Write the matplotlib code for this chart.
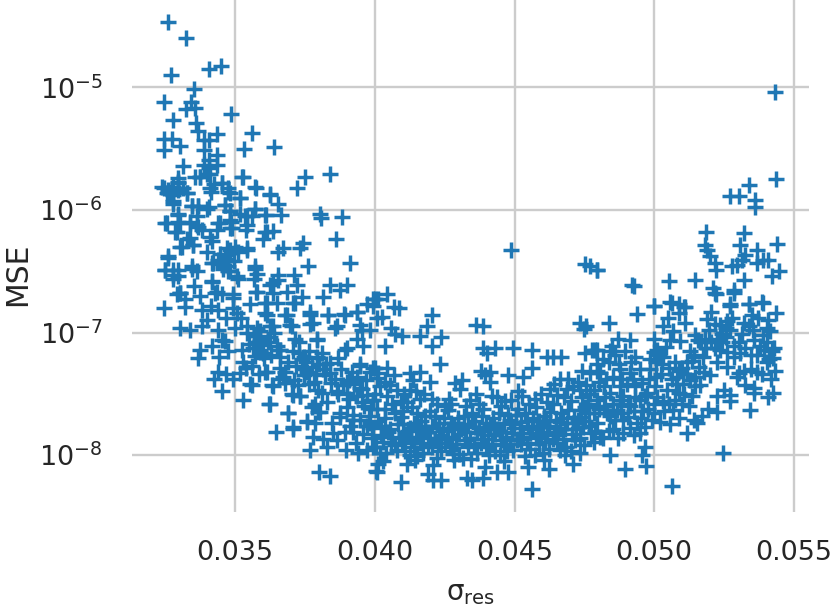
import matplotlib
matplotlib.use('Agg')
import numpy as np
import matplotlib.pyplot as plt

# (sigma_res, log10 MSE), one list per area
upper_left = [(0.03261,-4.47),(0.03323,-4.60),(0.03271,-4.90),(0.03408,-4.85),(0.03448,-4.83),(0.03353,-5.01),
    (0.03246,-5.12),(0.03341,-5.12),(0.03357,-5.17),(0.03325,-5.18),(0.03486,-5.22),(0.03276,-5.27),(0.0336,-5.29),
    (0.03369,-5.36),(0.03437,-5.38),(0.0356,-5.37),(0.03273,-5.42),(0.03246,-5.42),(0.03387,-5.43),(0.03405,-5.43),
    (0.03303,-5.48),(0.03246,-5.51),(0.03533,-5.50),(0.0364,-5.49),(0.03387,-5.51),(0.03437,-5.55),(0.03313,-5.64),
    (0.0339,-5.63),(0.03434,-5.63),(0.03405,-5.59),(0.03405,-5.66),(0.03357,-5.73),(0.03373,-5.73),(0.03398,-5.71),
    (0.03525,-5.73),(0.03751,-5.73),(0.03841,-5.71),(0.03721,-5.82),(0.03574,-5.82),(0.03294,-5.74),(0.03452,-5.78),
    (0.03425,-5.79),(0.03238,-5.81),(0.03261,-5.84),(0.03279,-5.81),(0.03315,-5.82),(0.03294,-5.78),(0.03255,-5.86),
    (0.03279,-5.88),(0.03327,-5.86),(0.03473,-5.82),(0.03412,-5.85),(0.03482,-5.86),(0.03625,-5.87),(0.03518,-5.90),
    (0.03655,-5.95),(0.03279,-5.93),(0.03464,-5.96),(0.03345,-5.97),(0.03366,-5.97),(0.03405,-5.98),(0.03572,-5.99),
    (0.03482,-6.01),(0.03663,-6.04),(0.03611,-6.04),(0.03804,-6.03),(0.03809,-6.07),(0.03882,-6.06),(0.03297,-6.03),
    (0.03363,-6.05),(0.03518,-6.03),(0.03542,-6.05),(0.0356,-6.05),(0.03255,-6.11),(0.03297,-6.10),(0.03339,-6.11),
    (0.03363,-6.12),(0.03446,-6.11),(0.03486,-6.10),(0.03291,-6.18),(0.03381,-6.16),(0.03434,-6.16),(0.03488,-6.15),
    (0.03539,-6.16),(0.03607,-6.18),(0.03637,-6.17),(0.03601,-6.24),(0.03862,-6.24),(0.03742,-6.27),(0.03327,-6.24),
    (0.03416,-6.25),(0.03303,-6.30),(0.03351,-6.29),(0.0347,-6.31),(0.035,-6.30),(0.03544,-6.31),(0.03671,-6.31),
    (0.03733,-6.31)]

left_cluster = [(0.03244,-5.82),(0.03267,-5.85),(0.03297,-5.77),(0.03297,-5.84),(0.03327,-5.86),(0.03279,-5.95),
    (0.03375,-5.73),(0.03411,-5.71),(0.03411,-5.82),(0.03452,-5.78),(0.03476,-5.85),(0.0353,-5.73),(0.03572,-5.81),
    (0.03518,-5.90),(0.03625,-5.88),(0.03345,-5.97),(0.03369,-5.97),(0.03399,-5.99),(0.03464,-5.96),(0.03482,-6.01),
    (0.03572,-5.99),(0.03536,-6.05),(0.03607,-6.04),(0.03297,-6.04),(0.0325,-6.11),(0.03303,-6.11),(0.03339,-6.10),
    (0.03285,-6.18),(0.03369,-6.14),(0.0344,-6.11),(0.03482,-6.08),(0.03482,-6.15),(0.03542,-6.12),(0.03613,-6.18),
    (0.03339,-6.23),(0.03411,-6.22),(0.03309,-6.30),(0.03351,-6.29),(0.03261,-6.38),(0.03399,-6.34),(0.03422,-6.43),
    (0.03464,-6.37),(0.03482,-6.33),(0.03512,-6.34),(0.03542,-6.33),(0.03655,-6.34),(0.03464,-6.42),(0.03458,-6.48),
    (0.03482,-6.50),(0.0325,-6.49),(0.03279,-6.49),(0.03297,-6.54),(0.03345,-6.48),(0.03279,-6.56),(0.03572,-6.48),
    (0.03506,-6.54),(0.03416,-6.58),(0.03578,-6.67),(0.03625,-6.61),(0.03655,-6.57),(0.03303,-6.68),(0.03434,-6.67),
    (0.03494,-6.69),(0.0347,-6.40),(0.03452,-6.44),(0.03476,-6.46),(0.03496,-6.42),(0.03446,-6.36)]

lower_left = [(0.03912,-6.43),(0.03762,-6.46),(0.03261,-6.39),(0.03345,-6.46),(0.03249,-6.49),(0.03279,-6.53),
    (0.03297,-6.49),(0.03363,-6.50),(0.03416,-6.43),(0.0344,-6.41),(0.03458,-6.46),(0.03476,-6.50),(0.03572,-6.46),
    (0.03578,-6.52),(0.03512,-6.56),(0.03566,-6.56),(0.03655,-6.53),(0.03711,-6.53),(0.03637,-6.60),(0.03721,-6.61),
    (0.0384,-6.61),(0.03876,-6.65),(0.039,-6.61),(0.03416,-6.59),(0.03303,-6.68),(0.03291,-6.69),(0.03321,-6.73),
    (0.03428,-6.68),(0.03452,-6.69),(0.03494,-6.72),(0.03575,-6.67),(0.03685,-6.67),(0.03816,-6.71),(0.03739,-6.71),
    (0.03637,-6.68),(0.03247,-6.80),(0.03321,-6.79),(0.03383,-6.82),(0.03494,-6.80),(0.03554,-6.77),(0.03607,-6.76),
    (0.03649,-6.76),(0.03715,-6.76),(0.03992,-6.73),(0.03971,-6.77),(0.0401,-6.73),(0.03506,-6.84),(0.03607,-6.84),
    (0.03685,-6.86),(0.03768,-6.83),(0.03834,-6.86),(0.03888,-6.85),(0.03935,-6.83),(0.03398,-6.90),(0.03303,-6.96),
    (0.03337,-6.98),(0.03381,-6.95),(0.0344,-6.98),(0.035,-6.96),(0.03542,-6.95),(0.03578,-6.96),(0.03625,-6.95),
    (0.03703,-6.95),(0.0378,-6.92),(0.03858,-6.96),(0.03947,-6.94),(0.03983,-6.98),(0.04007,-6.88),(0.03452,-7.06),
    (0.03464,-7.07),(0.03566,-7.03),(0.0359,-7.06),(0.03715,-7.05),(0.03792,-7.05),(0.03935,-7.05),(0.03959,-7.11),
    (0.03375,-7.14),(0.03416,-7.11),(0.03476,-7.15),(0.03524,-7.14),(0.0359,-7.14),(0.03661,-7.14),(0.039,-7.13),
    (0.03366,-7.21),(0.03443,-7.20),(0.03527,-7.24),(0.03661,-7.20),(0.03739,-7.22),(0.03792,-7.21),(0.0387,-7.21),
    (0.03601,-7.17),(0.03947,-7.26),(0.03751,-7.29),(0.03816,-7.30),(0.03607,-7.32),(0.03983,-7.32),(0.03661,-7.29),
    (0.0384,-7.33),(0.03745,-7.35),(0.03554,-7.42),(0.03452,-7.48),(0.03634,-7.44),(0.03679,-7.41),(0.03906,-7.39),
    (0.03947,-7.45),(0.04007,-7.37),(0.03709,-7.51),(0.03733,-7.52),(0.0381,-7.49),(0.03864,-7.48),(0.039,-7.49),
    (0.03935,-7.52),(0.0353,-7.55),(0.03623,-7.58),(0.03787,-7.58),(0.03992,-7.55),(0.03691,-7.66),(0.03798,-7.65),
    (0.03876,-7.66),(0.03923,-7.67),(0.03757,-7.72),(0.03786,-7.74),(0.03947,-7.71),(0.03983,-7.74),(0.03646,-7.81),
    (0.03709,-7.79),(0.0378,-7.85),(0.03816,-7.87),(0.03894,-7.81),(0.03923,-7.81),(0.03852,-7.82),(0.03768,-7.96),
    (0.0383,-7.93),(0.03896,-7.96),(0.03941,-7.98),(0.03971,-7.96),(0.03995,-7.93),(0.03801,-8.14),(0.0384,-8.17),
    (0.04005,-8.13),(0.0401,-8.07)]

mid_left = [(0.03613,-6.76),(0.03709,-6.76),(0.03613,-6.86),(0.03679,-6.86),(0.03768,-6.86),(0.03834,-6.86),(0.03894,-6.86),
    (0.03935,-6.83),(0.03995,-6.78),(0.03589,-6.99),(0.03637,-6.95),(0.03697,-6.94),(0.03768,-6.93),(0.03864,-6.95),
    (0.03953,-6.98),(0.03792,-7.06),(0.03578,-7.08),(0.03625,-7.04),(0.03727,-7.08),(0.03661,-7.14),(0.03589,-7.16),
    (0.03745,-7.20),(0.03792,-7.20),(0.0384,-7.25),(0.03894,-7.14),(0.03948,-7.27),(0.04001,-7.29),(0.03613,-7.32),
    (0.03679,-7.32),(0.03757,-7.32),(0.03822,-7.35),(0.0356,-7.43),(0.03631,-7.43),(0.03703,-7.50),(0.03733,-7.52),
    (0.03798,-7.47),(0.0387,-7.50),(0.039,-7.40),(0.03953,-7.46),(0.03625,-7.58),(0.03691,-7.66),(0.03774,-7.61),
    (0.03828,-7.57),(0.039,-7.61),(0.03953,-7.57),(0.04001,-7.50),(0.03757,-7.73),(0.03804,-7.65),(0.03876,-7.69),
    (0.03923,-7.71),(0.03971,-7.76),(0.03709,-7.77),(0.03846,-7.74),(0.03911,-7.76),(0.03958,-7.83),(0.03989,-7.86),
    (0.03866,-7.88),(0.03934,-7.90),(0.03978,-7.68),(0.03985,-7.62),(0.0396,-7.60),(0.03908,-7.54)]

mid_left_dense = [(0.03542,-7.00),(0.03551,-7.09),(0.03563,-7.13),(0.03572,-7.19),(0.03585,-7.03),(0.03596,-7.10),
    (0.03604,-7.21),(0.03618,-7.08),(0.03628,-7.18),(0.03641,-7.00),(0.03649,-7.11),(0.03706,-7.15),(0.03718,-7.27),
    (0.03729,-7.17),(0.03742,-7.30),(0.03754,-7.24),(0.03763,-7.15),(0.03776,-7.28),(0.03788,-7.34),(0.03802,-7.26),
    (0.03812,-7.17),(0.03826,-7.26),(0.03689,-7.24),(0.03672,-7.36),(0.03658,-7.38),(0.03711,-7.39),(0.03725,-7.43),
    (0.03763,-7.42),(0.03782,-7.40),(0.03844,-7.41),(0.03856,-7.38),(0.03878,-7.30),(0.03886,-7.43),(0.03918,-7.32),
    (0.03927,-7.42),(0.03936,-7.36),(0.03967,-7.39),(0.03972,-7.51),(0.03516,-7.33),(0.03538,-7.29),(0.03562,-7.27),
    (0.03586,-7.34),(0.03492,-7.38),(0.03468,-7.34),(0.03439,-7.32),(0.03426,-7.38),(0.03412,-6.78),(0.03438,-6.82),
    (0.03467,-6.88),(0.03521,-6.88),(0.03352,-6.62),(0.03374,-6.70)]

middle = [(0.04488,-6.33),(0.04045,-6.69),(0.04,-6.73),(0.04067,-6.79),(0.04088,-6.80),(0.04025,-6.87),(0.04204,-6.86),
    (0.04363,-6.94),(0.04387,-6.95),(0.04735,-6.92),(0.04756,-6.95),(0.04747,-6.97),(0.04186,-6.95),(0.04057,-6.96),
    (0.04073,-7.01),(0.04097,-7.03),(0.04162,-7.03),(0.04236,-7.04),(0.04037,-7.11),(0.04204,-7.11),(0.04389,-7.13),
    (0.04431,-7.13),(0.04401,-7.17),(0.04493,-7.13),(0.04564,-7.14),(0.04616,-7.20),(0.04637,-7.20),(0.04666,-7.20),
    (0.04753,-7.17),(0.04777,-7.14),(0.04795,-7.14),(0.04234,-7.26),(0.04741,-7.31),(0.04564,-7.29),(0.04771,-7.33),
    (0.04795,-7.31),(0.04379,-7.31),(0.04413,-7.32),(0.04395,-7.35),(0.04478,-7.35),(0.0453,-7.36),(0.04413,-7.40),
    (0.04663,-7.38),(0.04311,-7.39),(0.04287,-7.41),(0.04305,-7.46),(0.04162,-7.32),(0.04126,-7.33),(0.04198,-7.40),
    (0.03995,-7.29),(0.04045,-7.29),(0.04067,-7.35),(0.04013,-7.33),(0.04055,-7.43),(0.04043,-7.52),(0.04103,-7.50),
    (0.04138,-7.39),(0.04126,-7.47),(0.04061,-7.58),(0.03995,-7.55),(0.04162,-7.54),(0.04204,-7.54),(0.04264,-7.54),
    (0.04419,-7.52),(0.04526,-7.52),(0.04574,-7.54),(0.04651,-7.51),(0.04711,-7.44),(0.04735,-7.47),(0.04771,-7.50),
    (0.04007,-8.14),(0.04093,-8.22),(0.04031,-8.05),(0.04115,-8.07),(0.04144,-8.04),(0.04192,-8.15),(0.0421,-8.20),
    (0.04236,-8.20),(0.04208,-8.08),(0.04282,-8.04),(0.04329,-8.19),(0.04347,-8.20),(0.04389,-8.19),(0.04395,-8.10),
    (0.04437,-8.14),(0.04475,-8.14),(0.04461,-8.05),(0.0455,-8.10),(0.04562,-8.28),(0.04622,-8.11),(0.04604,-8.04),
    (0.04709,-8.07),(0.04681,-8.0)]

band = [(0.04008,-7.62),(0.04038,-7.70),(0.04072,-7.66),(0.04101,-7.75),(0.04132,-7.61),(0.04165,-7.72),(0.04198,-7.64),
    (0.04229,-7.74),(0.04261,-7.63),(0.04296,-7.70),(0.04327,-7.60),(0.04358,-7.72),(0.04389,-7.62),(0.04422,-7.70),
    (0.04451,-7.60),(0.04484,-7.71),(0.04512,-7.62),(0.04543,-7.72),(0.04577,-7.61),(0.04606,-7.68),(0.04639,-7.58),
    (0.04668,-7.66),(0.04702,-7.56),(0.04733,-7.63),(0.04764,-7.58),(0.03995,-7.78),(0.04022,-7.84),(0.04055,-7.79),
    (0.04086,-7.86),(0.04118,-7.80),(0.04149,-7.85),(0.04181,-7.79),(0.04214,-7.87),(0.04245,-7.80),(0.04278,-7.85),
    (0.04309,-7.79),(0.04341,-7.86),(0.04373,-7.78),(0.04404,-7.84),(0.04436,-7.79),(0.04468,-7.85),(0.04499,-7.78),
    (0.04531,-7.85),(0.04562,-7.79),(0.04594,-7.84),(0.04625,-7.76),(0.04657,-7.81),(0.04688,-7.74),(0.04719,-7.79),
    (0.04751,-7.72),(0.04005,-7.93),(0.04041,-7.98),(0.04074,-7.92),(0.04107,-7.97),(0.04139,-7.93),(0.04172,-7.98),
    (0.04203,-7.93),(0.04236,-7.97),(0.04268,-7.93),(0.04301,-7.99),(0.04333,-7.93),(0.04365,-7.98),(0.04397,-7.93),
    (0.04429,-7.97),(0.04462,-7.92),(0.04493,-7.96),(0.04525,-7.91),(0.04557,-7.95),(0.04589,-7.91),(0.04622,-7.95),
    (0.04653,-7.90),(0.04685,-7.93),(0.04716,-7.88),(0.04748,-7.92),(0.04772,-7.82),(0.04022,-7.76),(0.04093,-7.69),
    (0.04151,-7.66),(0.04217,-7.68),(0.04283,-7.77),(0.04349,-7.66),(0.04411,-7.76),(0.04476,-7.67),(0.04539,-7.66),
    (0.04601,-7.75),(0.04662,-7.73),(0.04728,-7.71),(0.04058,-7.90),(0.04126,-8.00),(0.04189,-7.92),(0.04253,-7.90),
    (0.04317,-8.02),(0.04381,-7.90),(0.04447,-8.00),(0.04509,-7.88),(0.04574,-8.00),(0.04637,-7.87),(0.04702,-7.97)]

band_core = [(0.04012,-7.72),(0.04047,-7.81),(0.04083,-7.75),(0.04109,-7.83),(0.04141,-7.74),(0.04174,-7.83),(0.04206,-7.76),
    (0.04238,-7.84),(0.04271,-7.74),(0.04303,-7.83),(0.04335,-7.75),(0.04366,-7.82),(0.04398,-7.74),(0.04429,-7.83),
    (0.04461,-7.74),(0.04492,-7.82),(0.04524,-7.73),(0.04556,-7.82),(0.04587,-7.72),(0.04618,-7.81),(0.04649,-7.71),
    (0.04681,-7.79),(0.04712,-7.69),(0.04744,-7.77),(0.04768,-7.66),(0.04028,-7.89),(0.04063,-7.85),(0.04097,-7.90),
    (0.04131,-7.88),(0.04163,-7.90),(0.04196,-7.86),(0.04227,-7.90),(0.04259,-7.87),(0.04292,-7.91),(0.04324,-7.88),
    (0.04355,-7.91),(0.04387,-7.87),(0.04419,-7.91),(0.04451,-7.88),(0.04483,-7.91),(0.04514,-7.87),(0.04546,-7.90),
    (0.04578,-7.86),(0.04609,-7.89),(0.04641,-7.84),(0.04673,-7.87),(0.04704,-7.83),(0.04736,-7.86),(0.04101,-7.64),
    (0.04178,-7.68),(0.04246,-7.70),(0.04318,-7.68),(0.04383,-7.68),(0.04443,-7.66),(0.04505,-7.67),(0.04567,-7.70),
    (0.04628,-7.65),(0.04692,-7.63),(0.04752,-7.61),(0.04035,-7.62),(0.04116,-7.57),(0.04274,-7.58),(0.04372,-7.58),
    (0.04466,-7.56),(0.04553,-7.58),(0.04618,-7.57),(0.04676,-7.53),(0.04742,-7.53),(0.04079,-7.96),(0.04152,-8.01),
    (0.04281,-7.99),(0.04344,-8.03),(0.04409,-8.00),(0.04472,-7.97),(0.04538,-8.01),(0.04603,-7.98),(0.04662,-7.96),
    (0.04733,-7.98),(0.04017,-7.98),(0.04222,-8.02),(0.04127,-7.78),(0.04192,-7.81),(0.04262,-7.79),(0.04326,-7.81),
    (0.04392,-7.80),(0.04456,-7.81),(0.04518,-7.78),(0.04583,-7.77),(0.04647,-7.78),(0.04709,-7.74),(0.04158,-7.76),
    (0.04229,-7.78),(0.04296,-7.76),(0.04358,-7.77),(0.04425,-7.76),(0.04487,-7.75),(0.04549,-7.76),(0.04613,-7.72),
    (0.04675,-7.70),(0.04738,-7.69)]

band_top = [(0.04018,-7.44),(0.04036,-7.40),(0.04078,-7.47),(0.04094,-7.56),(0.04148,-7.48),(0.04176,-7.50),
    (0.04222,-7.58),(0.04253,-7.60),(0.04341,-7.55),(0.04362,-7.50),(0.04437,-7.53),(0.04488,-7.55),(0.04512,-7.48),
    (0.04596,-7.50),(0.04628,-7.46),(0.04689,-7.46),(0.04756,-7.43),(0.04726,-7.40),(0.04692,-7.38),(0.04643,-7.42)]

right_low = [(0.05063,-8.25),(0.05245,-7.98),(0.04896,-8.11),(0.0497,-8.09),(0.04956,-8.0),(0.04968,-7.93),(0.04843,-8.0),
    (0.05117,-7.82),(0.05153,-7.74),(0.05057,-7.75),(0.05344,-7.63),(0.05409,-7.53),(0.05425,-7.49),(0.05356,-7.49),
    (0.05272,-7.56),(0.05249,-7.47),(0.05224,-7.52),(0.05272,-7.51),(0.05224,-7.65),(0.05194,-7.62),(0.04938,-6.85),
    (0.04998,-6.78),(0.04837,-6.92),(0.05063,-6.76),(0.05105,-6.79),(0.05218,-6.68),(0.05284,-6.68),(0.05272,-6.77),
    (0.05341,-6.77),(0.05389,-6.76),(0.05437,-6.84),(0.05409,-6.90),(0.05203,-6.83),(0.05188,-6.89),(0.05087,-6.84),
    (0.05051,-6.88),(0.05033,-6.95),(0.05111,-6.92),(0.05069,-6.99),(0.05,-7.05),(0.04914,-7.06),(0.04872,-7.05),
    (0.04848,-7.11),(0.04789,-7.14),(0.0526,-6.91),(0.0532,-6.92),(0.0535,-6.86),(0.05242,-7.01),(0.05147,-7.02),
    (0.05183,-7.05),(0.05314,-7.01),(0.05356,-7.06),(0.05403,-6.96),(0.05415,-6.99),(0.05093,-7.07),(0.05057,-7.06),
    (0.05218,-7.13),(0.05284,-7.11),(0.05421,-7.15),(0.05425,-7.21),(0.05308,-7.17),(0.05379,-7.11),(0.04896,-7.15),
    (0.04932,-7.20),(0.0501,-7.14),(0.05033,-7.20),(0.05129,-7.15),(0.05224,-7.24),(0.0526,-7.28),(0.05433,-7.31),
    (0.05403,-7.24),(0.05367,-7.32),(0.05302,-7.33),(0.05159,-7.28),(0.05117,-7.24),(0.05201,-7.35),(0.05027,-7.26),
    (0.04837,-7.24),(0.05081,-7.36),(0.05326,-7.43),(0.05356,-7.45),(0.05129,-7.39),(0.05165,-7.43),(0.05045,-7.47),
    (0.05087,-7.49),(0.04986,-7.30),(0.04949,-7.30),(0.04914,-7.33),(0.04878,-7.30),(0.04807,-7.33),(0.05004,-7.44),
    (0.04974,-7.49),(0.0493,-7.44),(0.04878,-7.44),(0.04819,-7.44),(0.04783,-7.47),(0.0495,-7.55),(0.0489,-7.52),
    (0.04843,-7.49),(0.04795,-7.55),(0.05,-7.66),(0.05069,-7.63),(0.05123,-7.60),(0.05087,-7.70),(0.04961,-7.64),
    (0.04914,-7.60),(0.04866,-7.63),(0.04819,-7.60),(0.04783,-7.66),(0.04938,-7.74),(0.0489,-7.71),(0.04843,-7.68),
    (0.04795,-7.74),(0.0495,-7.82),(0.04872,-7.86),(0.04854,-7.79),(0.04807,-7.85),(0.04783,-7.89),(0.05141,-7.71),
    (0.05021,-7.73),(0.05171,-7.68)]

right_core = [(0.04802,-7.40),(0.04826,-7.38),(0.04851,-7.36),(0.04884,-7.38),(0.04902,-7.42),(0.04925,-7.38),(0.04958,-7.41),
    (0.04981,-7.38),(0.05008,-7.36),(0.05025,-7.34),(0.04986,-7.22),(0.05006,-7.24),(0.05018,-7.18),(0.04998,-7.16),
    (0.05042,-7.12),(0.04966,-7.52),(0.05011,-7.53),(0.05032,-7.56),(0.04933,-7.53),(0.04906,-7.58),(0.04877,-7.55),
    (0.04852,-7.58),(0.04823,-7.53),(0.04804,-7.62),(0.04832,-7.66),(0.04858,-7.71),(0.04881,-7.66),(0.04906,-7.69),
    (0.04928,-7.64),(0.04952,-7.70),(0.04976,-7.62),(0.04998,-7.58),(0.05036,-7.64),(0.05053,-7.58),(0.05074,-7.55),
    (0.05098,-7.58),(0.05108,-7.50),(0.05136,-7.52),(0.05147,-7.44),(0.05102,-7.42),(0.05078,-7.42),(0.05063,-7.38),
    (0.05118,-7.34),(0.05146,-7.36),(0.05178,-7.32),(0.05101,-7.29),(0.05088,-7.31),(0.05136,-7.23),(0.05142,-7.18),
    (0.05176,-7.20),(0.05186,-7.13),(0.05168,-7.08),(0.05203,-7.08),(0.05223,-7.05),(0.05242,-7.08),(0.05256,-7.04),
    (0.05236,-7.14),(0.05261,-7.16),(0.05286,-7.20),(0.05305,-7.08),(0.05325,-7.13),(0.05345,-7.18),(0.05368,-7.18),
    (0.05392,-7.14),(0.05403,-7.08),(0.05412,-7.22),(0.05428,-7.13),(0.05273,-6.98),(0.05258,-6.96),(0.05236,-6.94),
    (0.05278,-6.88),(0.05338,-6.95),(0.05352,-6.98),(0.05391,-7.02),(0.05372,-6.88),(0.05296,-7.36),(0.05322,-7.31),
    (0.05345,-7.30),(0.05385,-7.34),(0.05418,-7.38),(0.05156,-7.06),(0.05196,-6.98),(0.05216,-6.93),(0.04858,-7.18),
    (0.04842,-7.15),(0.04818,-7.22),(0.04794,-7.26),(0.04916,-7.24),(0.04873,-7.26),(0.05052,-7.29),(0.05076,-7.24),
    (0.04789,-7.80),(0.04768,-7.76),(0.04912,-7.78),(0.04928,-7.84),(0.04838,-7.80),(0.04818,-7.86),(0.04887,-7.82),
    (0.04966,-7.77),(0.04992,-7.71)]

right_high = [(0.05431,-5.04),(0.05435,-5.75),(0.05341,-5.80),(0.05273,-5.89),(0.05304,-5.89),(0.05361,-5.92),
    (0.05359,-5.98),(0.05185,-6.18),(0.05323,-6.19),(0.05308,-6.29),(0.0518,-6.29),(0.05188,-6.33),(0.05441,-6.28),
    (0.05367,-6.33),(0.052,-6.38),(0.05218,-6.43),(0.05391,-6.41),(0.05409,-6.41),(0.05314,-6.41),(0.05326,-6.37),
    (0.05278,-6.46),(0.05296,-6.45),(0.05445,-6.50),(0.05367,-6.43),(0.05222,-6.49),(0.05421,-6.54),(0.0532,-6.57),
    (0.04795,-6.49),(0.04926,-6.62),(0.05054,-6.58),(0.05147,-6.57),(0.05212,-6.64),(0.05284,-6.65),(0.05222,-6.69),
    (0.04998,-6.78),(0.05057,-6.75),(0.05087,-6.77),(0.05111,-6.79),(0.05272,-6.78),(0.05338,-6.77),(0.05385,-6.75),
    (0.04771,-6.46),(0.04753,-6.44),(0.04796,-6.49),(0.04921,-6.61)]

x_ticks = [0.035, 0.040, 0.045, 0.050, 0.055]
x_labels = ['0.035', '0.040', '0.045', '0.050', '0.055']
y_ticks = [1e-8, 1e-7, 1e-6, 1e-5]

pts = np.array(upper_left + left_cluster + lower_left + mid_left + mid_left_dense + middle + band + band_core
               + band_top + right_low + right_core + right_high)
sigma_res = pts[:, 0]
mse = 10.0**pts[:, 1]

fig = plt.figure(figsize=(8.31, 6.08), dpi=100)
ax = fig.add_axes([132/831, 1-512/608, (809-132)/831, 512/608])
ax.scatter(sigma_res, mse, marker='+', s=135, linewidths=2.5, color='#1f77b4', zorder=3)

ax.set_yscale('log')
ax.set_xlim(0.03131, 0.05554)
ax.set_ylim(10**-8.464, 10**-4.288)
ax.set_xticks(x_ticks)
ax.set_xticklabels(x_labels)
ax.set_yticks(y_ticks)
ax.minorticks_off()
ax.grid(True, color='.8', lw=1.7)
ax.set_axisbelow(True)
for s in ax.spines.values():
    s.set_visible(False)
ax.tick_params(axis='both', length=0, labelsize=19.5, labelcolor='.15')
ax.tick_params(axis='x', pad=20)
ax.tick_params(axis='y', pad=21)
ax.set_xlabel(r'$\mathregular{\sigma_{res}}$', fontsize=20, color='.15')
ax.xaxis.set_label_coords(0.5, -0.130)
ax.set_ylabel('MSE', fontsize=21.5, color='.15')
ax.yaxis.set_label_coords(-0.148, 0.465)

plt.savefig('out.png', dpi=100)
